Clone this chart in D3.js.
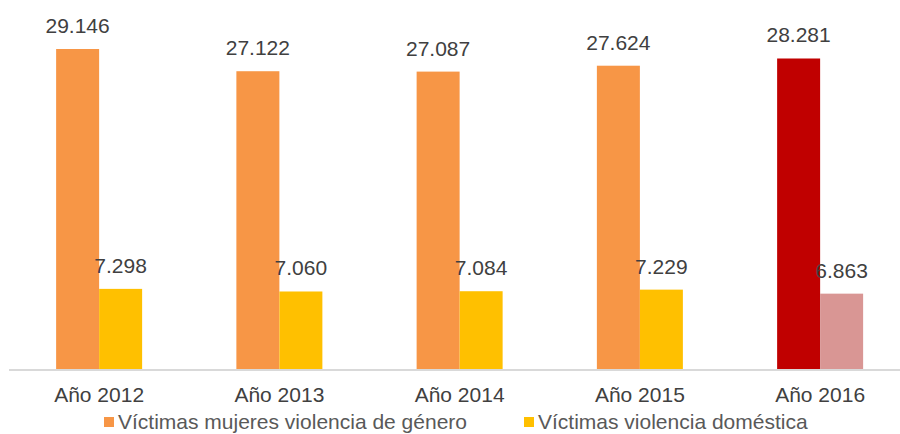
<!DOCTYPE html>
<html>
<head>
<meta charset="utf-8">
<script src="https://cdn.jsdelivr.net/npm/d3@7"></script>
<style>
  body { margin: 0; background: #fff; }
  svg { display: block; font-family: "Liberation Sans", Arial, sans-serif; }
</style>
</head>
<body>
<div id="chart"></div>
<script>
// datos
const years = ["Año 2012", "Año 2013", "Año 2014", "Año 2015", "Año 2016"];
const seriesNames = ["Víctimas mujeres violencia de género", "Víctimas violencia doméstica"];
const genero = [29146, 27122, 27087, 27624, 28281];
const domestica = [7298, 7060, 7084, 7229, 6863];

const colors = ["#F79646", "#FFC000"];
const highlight = ["#C00000", "#D99694"]; // último año resaltado

const width = 900, height = 434;
const margin = {top: 49, left: 9, baseline: 369};

const svg = d3.select("#chart").append("svg")
    .attr("width", width)
    .attr("height", height);

// escalas
const x0 = d3.scaleBand()
    .domain(years)
    .range([margin.left, margin.left + 180.25 * years.length]);

const x1 = d3.scaleBand()
    .domain([0, 1])
    .range([x0.bandwidth() / 2 - 43, x0.bandwidth() / 2 + 43]);

const y = d3.scaleLinear()
    .domain([0, d3.max(genero)])
    .range([margin.baseline, margin.top]);

const fmt = v => d3.format(",")(v).replace(/,/g, ".");

const data = years.map((yr, i) => ({
    year: yr, i: i, values: [genero[i], domestica[i]]
}));

const groups = svg.selectAll("g.grupo")
    .data(data)
    .join("g")
    .attr("class", "grupo")
    .attr("transform", d => `translate(${x0(d.year)},0)`);

// barras
groups.selectAll("rect")
    .data(d => d.values.map((v, s) => ({v, s, last: d.i === years.length - 1})))
    .join("rect")
    .attr("x", d => x1(d.s))
    .attr("y", d => y(d.v))
    .attr("width", x1.bandwidth())
    .attr("height", d => y(0) - y(d.v))
    .attr("fill", d => d.last ? highlight[d.s] : colors[d.s]);

// etiquetas de valores
groups.selectAll("text.valor")
    .data(d => d.values.map((v, s) => ({v, s})))
    .join("text")
    .attr("class", "valor")
    .attr("x", d => x1(d.s) + x1.bandwidth() / 2)
    .attr("y", d => y(d.v) - 16)
    .attr("text-anchor", "middle")
    .attr("font-size", 21)
    .attr("fill", "#404040")
    .text(d => fmt(d.v));

// eje X
svg.append("line")
    .attr("x1", margin.left)
    .attr("x2", width)
    .attr("y1", y(0) + 1)
    .attr("y2", y(0) + 1)
    .attr("stroke", "#D9D9D9")
    .attr("stroke-width", 2);

svg.append("g")
    .selectAll("text")
    .data(years)
    .join("text")
    .attr("x", d => x0(d) + x0.bandwidth() / 2)
    .attr("y", 402)
    .attr("text-anchor", "middle")
    .attr("font-size", 21)
    .attr("fill", "#404040")
    .text(d => d);

// leyenda
const legendX = [104, 524];
const legend = svg.append("g").selectAll("g")
    .data(seriesNames)
    .join("g")
    .attr("transform", (d, i) => `translate(${legendX[i]},0)`);

legend.append("rect")
    .attr("x", 0)
    .attr("y", 417)
    .attr("width", 10)
    .attr("height", 10)
    .attr("fill", (d, i) => colors[i]);

legend.append("text")
    .attr("x", 14)
    .attr("y", 429)
    .attr("font-size", 21)
    .attr("fill", "#595959")
    .text(d => d);
</script>
</body>
</html>
